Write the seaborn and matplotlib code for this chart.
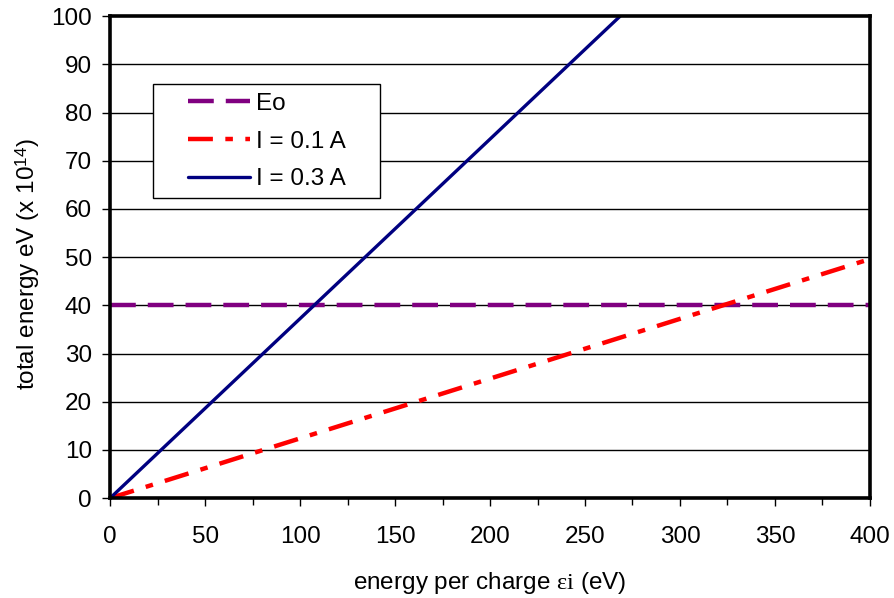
import matplotlib
matplotlib.use("Agg")
import matplotlib.pyplot as plt
import seaborn as sns
from matplotlib.ticker import MultipleLocator
from matplotlib.patches import Rectangle

sns.set_style("white")
plt.rcParams['font.family'] = ['Liberation Sans', 'DejaVu Sans']
plt.rcParams['text.color'] = 'black'
plt.rcParams['axes.labelcolor'] = 'black'
plt.rcParams['xtick.color'] = 'black'
plt.rcParams['ytick.color'] = 'black'
plt.rcParams['mathtext.fontset'] = 'custom'
plt.rcParams['mathtext.rm'] = 'Liberation Serif'
plt.rcParams['mathtext.sf'] = 'Liberation Sans'
plt.rcParams['mathtext.it'] = 'Liberation Serif:italic'

# data
eo_x = [0, 400]
eo_y = [40, 40]
i01_x = [0, 400]
i01_y = [0, 49.6]
i03_x = [0, 268.5]
i03_y = [0, 100]

FS = 17.5

fig = plt.figure(figsize=(8.95, 5.98), dpi=100)
ax = fig.add_axes([0.123, 0.167, 0.849, 0.806])

for y in range(10, 100, 10):
    ax.axhline(y, color='black', lw=1.0, zorder=0)

sns.lineplot(x=eo_x, y=eo_y, ax=ax, color='#800080', lw=3.2, label='Eo', zorder=3)
ax.lines[-1].set_dashes([5.8, 2.7])
sns.lineplot(x=i01_x, y=i01_y, ax=ax, color='#FF0000', lw=3.2, label='I = 0.1 A', zorder=3)
ax.lines[-1].set_dashes([5.6, 2.8, 1.7, 2.8])
sns.lineplot(x=i03_x, y=i03_y, ax=ax, color='#000080', lw=2.4, label='I = 0.3 A', zorder=4)

ax.set_xlim(0, 400)
ax.set_ylim(0, 100)
ax.xaxis.set_major_locator(MultipleLocator(50))
ax.xaxis.set_minor_locator(MultipleLocator(25))
ax.yaxis.set_major_locator(MultipleLocator(10))
ax.tick_params(axis='both', which='major', direction='out', length=6, width=1,
               color='black', labelcolor='black', labelsize=FS, bottom=True, left=True)
ax.tick_params(axis='y', which='major', pad=7)
ax.tick_params(axis='x', which='major', pad=14)
ax.tick_params(axis='x', which='minor', direction='out', length=5, width=1,
               color='black', bottom=True)

for s in ax.spines.values():
    s.set_visible(True)
    s.set_color('black')
    s.set_linewidth(2.6)
    s.set_zorder(10)

ax.set_xlabel(r'energy per charge $\mathrm{εi}$ (eV)', fontsize=FS, labelpad=16)
ax.set_ylabel(r'total energy eV (x 10$^{\mathsf{14}}$)', fontsize=FS)
ax.yaxis.set_label_coords(-0.0895, 0.485)

# legend box
ax.add_patch(Rectangle((0.0566, 0.622), 0.298, 0.237, transform=ax.transAxes,
                       facecolor='white', edgecolor='black', lw=1.0, zorder=6))
leg = ax.legend(loc='upper left', bbox_to_anchor=(0.1026, 0.841),
                fontsize=FS, frameon=False, handlelength=2.55, handletextpad=0.25,
                borderpad=0, labelspacing=0.65, borderaxespad=0)
leg.set_zorder(7)

fig.savefig('out.png', dpi=100, facecolor='white')
